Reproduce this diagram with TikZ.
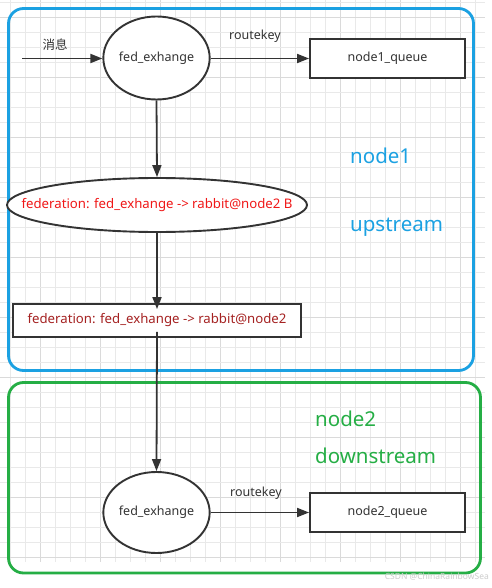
\documentclass[tikz,border=0pt]{standalone}
\usepackage{fontspec}
\setmainfont{Noto Sans}
\newfontfamily\cjk{Noto Sans CJK SC}
\usetikzlibrary{arrows.meta,shapes.geometric}
\definecolor{gridminor}{HTML}{E9E9E9}
\definecolor{gridmajor}{HTML}{DADADA}
\definecolor{boxblue}{HTML}{1BA1E2}
\definecolor{boxgreen}{HTML}{25AE45}
\definecolor{ink}{HTML}{333333}
\definecolor{fedred}{HTML}{F01818}
\definecolor{feddark}{HTML}{A52222}
\tikzset{
  exch/.style={ellipse, draw=ink, fill=white, line width=1.9pt, minimum width=105pt, minimum height=83pt, inner sep=0pt, font=\fontsize{12.5}{13}\selectfont, text=ink},
  queuebox/.style={rectangle, draw=ink, fill=white, line width=1.9pt, minimum width=155pt, minimum height=39pt, inner sep=0pt, font=\fontsize{12.5}{13}\selectfont, text=ink},
  conn/.style={draw=ink, line width=1.8pt, -{Triangle[length=12pt,width=9pt]}},
  lbl/.style={font=\fontsize{12.5}{13}\selectfont, text=ink, inner sep=0pt},
  zone/.style={rounded corners=15pt, line width=2.8pt},
  bigtxt/.style={font=\fontsize{20.5}{21}\selectfont, inner sep=0pt, anchor=west}
}
\begin{document}
\begin{tikzpicture}[x=1pt,y=-1pt]
\useasboundingbox (0,0) rectangle (491,588);
\fill[white] (0,0) rectangle (491,588);
% grid
\foreach \i in {0,...,31}{
  \pgfmathsetmacro{\xx}{10+15*\i}
  \pgfmathtruncatemacro{\mm}{mod(\i,4)}
  \ifnum\mm=2 \draw[gridmajor,line width=0.9pt] (\xx,0) -- (\xx,562);
  \else \draw[gridminor,line width=0.9pt] (\xx,0) -- (\xx,562); \fi
}
\foreach \j in {0,...,37}{
  \pgfmathsetmacro{\yy}{2+15*\j}
  \pgfmathtruncatemacro{\mm}{mod(\j,4)}
  \ifnum\mm=1 \draw[gridmajor,line width=0.9pt] (0,\yy) -- (485,\yy);
  \else \draw[gridminor,line width=0.9pt] (0,\yy) -- (485,\yy); \fi
}
% zones
\draw[zone, draw=boxblue] (8.5,8.5) rectangle (473.5,370.5);
\draw[zone, draw=boxgreen] (8.5,382.5) rectangle (480.5,573);
% nodes
\coordinate (src) at (22,58.5);
\node[exch] (ex1) at (156.5,58) {fed\_exhange};
\node[queuebox] (q1) at (387.5,58.5) {node1\_queue};
\node[ellipse, draw=ink, fill=white, line width=1.9pt, minimum width=300pt, minimum height=54pt, inner xsep=-40pt, inner ysep=0pt, font=\fontsize{13.2}{14}\selectfont, text=fedred] (fed1) at (157,205) {federation: fed\_exhange -> rabbit@node2 B};
\node[rectangle, draw=ink, fill=white, line width=1.9pt, minimum width=288pt, minimum height=33pt, inner sep=0pt, font=\fontsize{13.2}{14}\selectfont, text=feddark] (fed2) at (157,320.5) {federation: fed\_exhange -> rabbit@node2};
\node[exch, minimum height=81pt] (ex2) at (156.5,512.5) {fed\_exhange};
\node[queuebox] (q2) at (387.5,512.5) {node2\_queue};
% labels
\node[lbl] (msg) at (55,45) {\cjk 消息};
\node[lbl] (rk1) at (255,36) {routekey};
\node[lbl] (rk2) at (256,493) {routekey};
\node[bigtxt, text=boxblue] (n1) at (350,156) {node1};
\node[bigtxt, text=boxblue] (up) at (350,227) {upstream};
\node[bigtxt, text=boxgreen] (n2) at (315,419) {node2};
\node[bigtxt, text=boxgreen] (down) at (315,456) {downstream};
\node[font=\fontsize{8.5}{9}\selectfont, text=gray!40, inner sep=0pt, anchor=east] (wm) at (489,577) {CSDN @ChinaRainbowSea};
% connectors
\draw[conn] (src) -- (src -| ex1.west);
\draw[conn] (ex1.east |- q1.west) -- (q1.west);
\draw[conn] (ex1.south) -- (fed1.north);
\draw[conn] (fed1.south) -- ([yshift=-6pt]fed2.north);
\draw[conn] ([yshift=6pt]fed2.south) -- (ex2.north);
\draw[conn] (ex2.east) -- (q2.west);
\end{tikzpicture}
\end{document}
